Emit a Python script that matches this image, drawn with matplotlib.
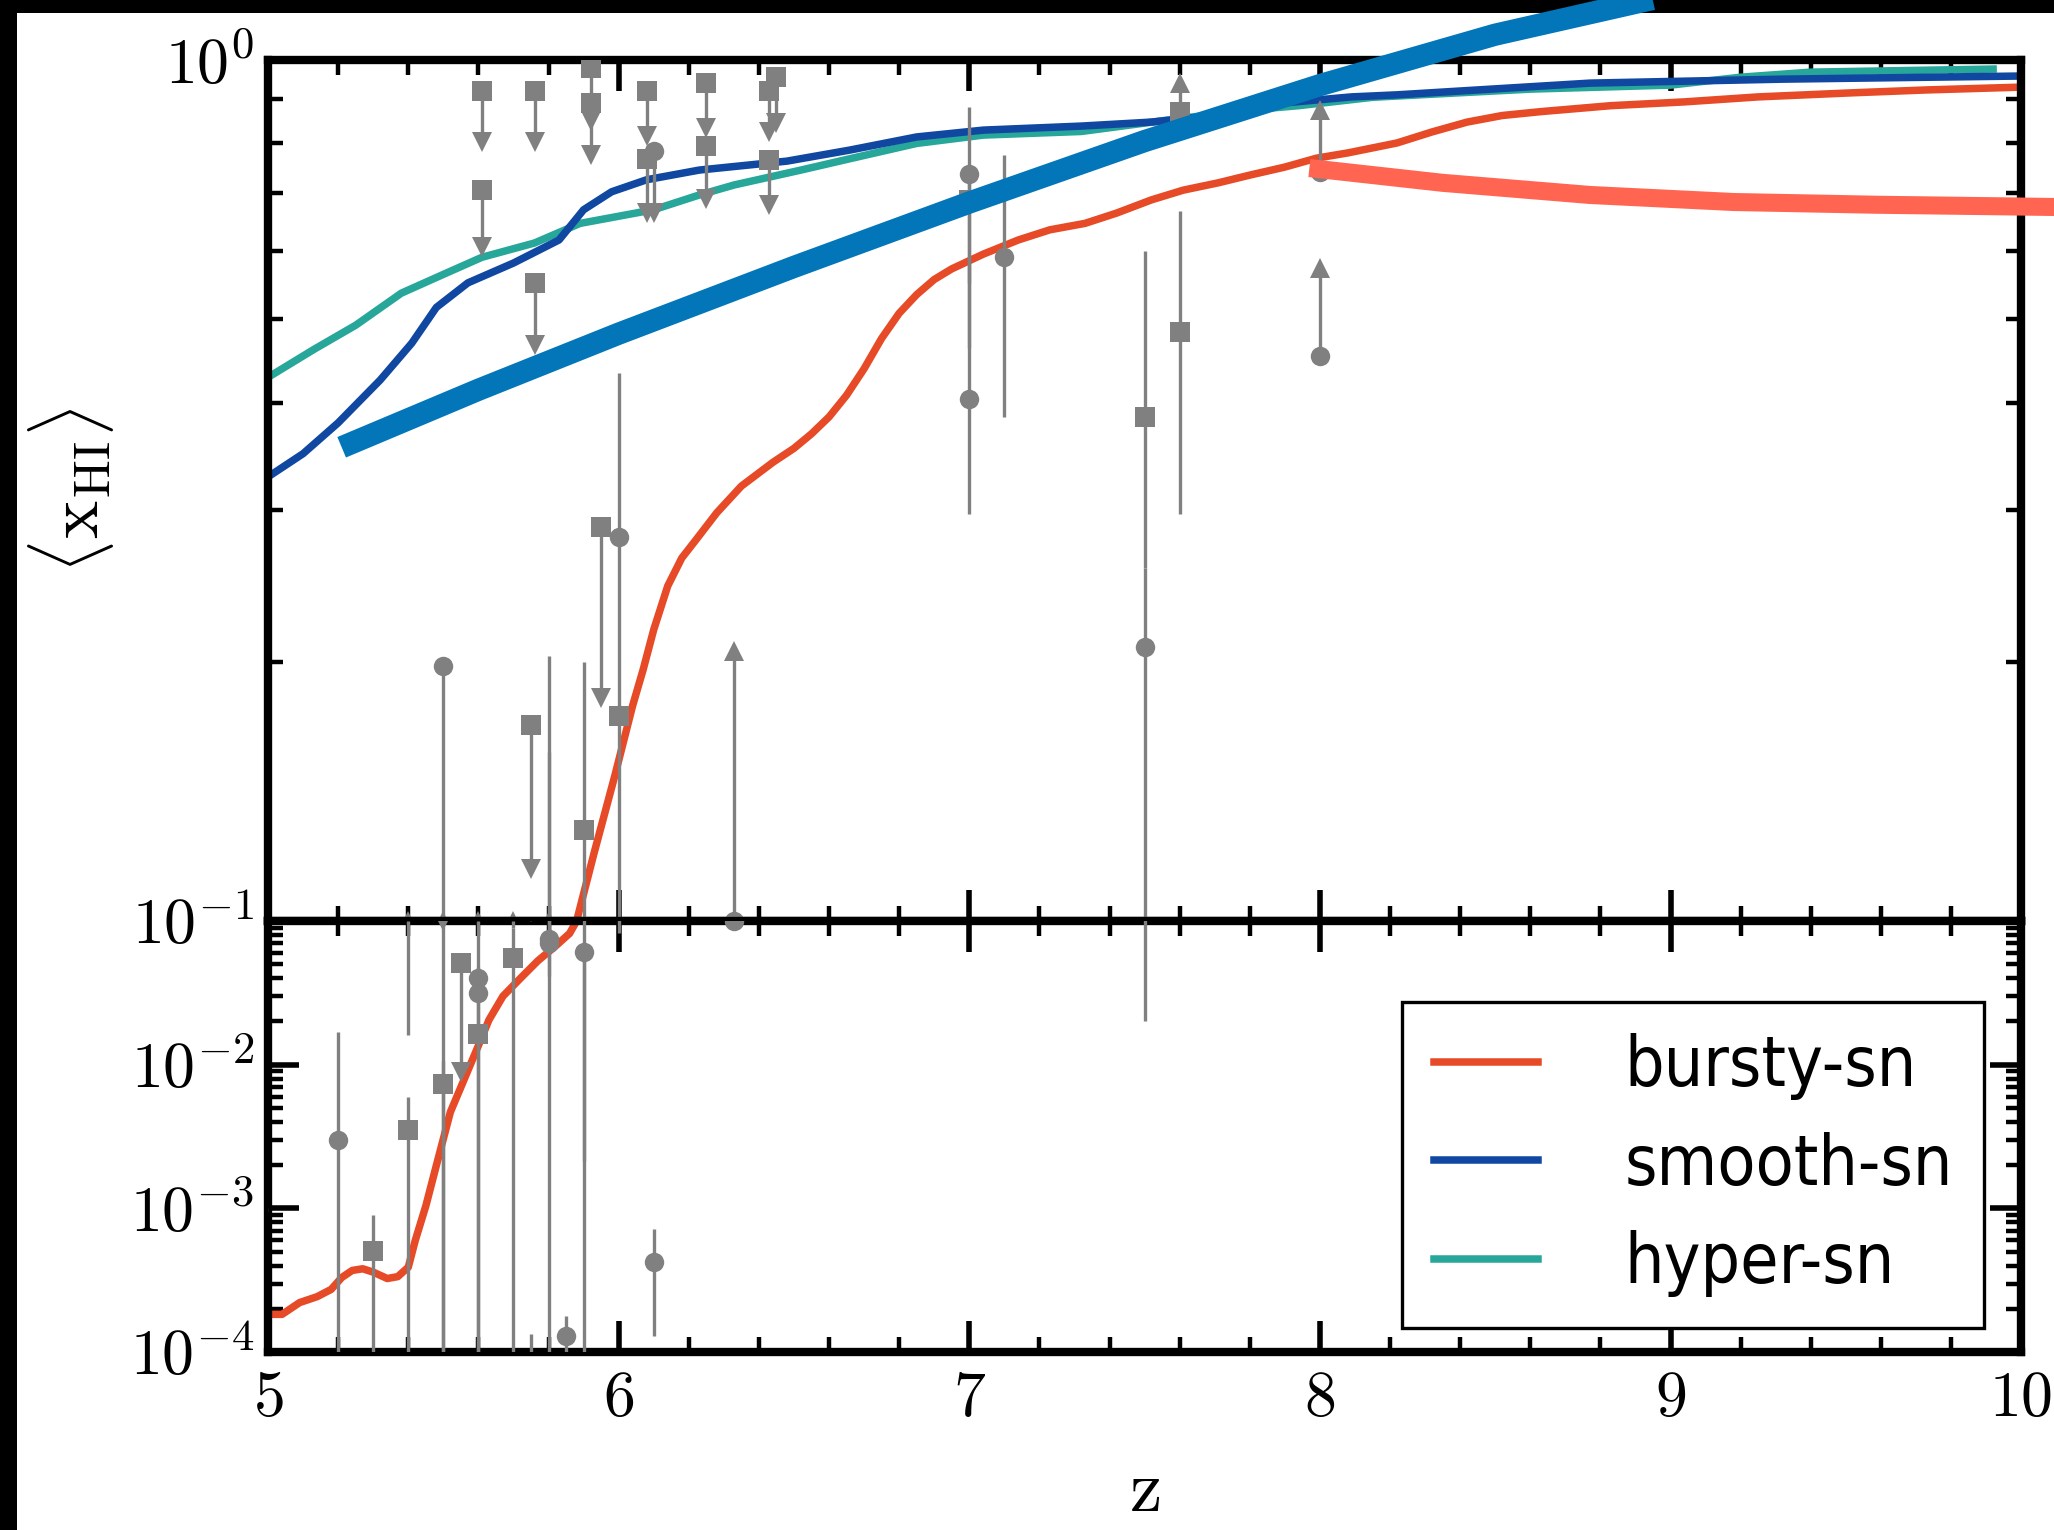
import numpy as np
import matplotlib
matplotlib.use("Agg")
import matplotlib.pyplot as plt
from matplotlib.patches import Rectangle
from matplotlib.ticker import MultipleLocator, LogLocator, FuncFormatter, NullFormatter

plt.rcParams['mathtext.fontset'] = 'cm'
plt.rcParams['font.family'] = 'serif'
plt.rcParams['font.serif'] = ['cmr10', 'DejaVu Serif']
plt.rcParams['axes.formatter.use_mathtext'] = True

# ---- model curves ----
z_bursty = [5.00, 5.04, 5.09, 5.14, 5.18, 5.21, 5.24, 5.27, 5.30, 5.34, 5.37, 5.40, 5.42,
            5.45, 5.48, 5.52, 5.56, 5.60, 5.63, 5.67, 5.72, 5.77, 5.82, 5.86, 5.88, 5.93,
            5.99, 6.04, 6.07, 6.10, 6.14, 6.18, 6.22, 6.28, 6.35, 6.44, 6.50, 6.55, 6.60,
            6.65, 6.70, 6.75, 6.80, 6.85, 6.90, 6.95, 7.04, 7.14, 7.23, 7.33, 7.42, 7.52,
            7.61, 7.71, 7.80, 7.90, 7.99, 8.08, 8.22, 8.32, 8.42, 8.52, 8.63, 8.83, 9.04,
            9.25, 9.52, 9.73, 10.0]
x_bursty = [1.83e-4, 1.83e-4, 2.21e-4, 2.43e-4, 2.73e-4, 3.3e-4, 3.7e-4, 3.8e-4, 3.6e-4,
            3.25e-4, 3.35e-4, 3.9e-4, 6.0e-4, 1.04e-3, 1.99e-3, 4.68e-3, 7.98e-3, 0.0136,
            0.0205, 0.030, 0.040, 0.053, 0.067, 0.082, 0.1, 0.12, 0.148, 0.178, 0.196,
            0.218, 0.245, 0.264, 0.277, 0.298, 0.32, 0.341, 0.354, 0.368, 0.385, 0.408,
            0.438, 0.475, 0.508, 0.534, 0.556, 0.572, 0.595, 0.618, 0.635, 0.646, 0.664,
            0.688, 0.706, 0.720, 0.735, 0.751, 0.769, 0.780, 0.801, 0.825, 0.847, 0.862,
            0.871, 0.885, 0.894, 0.906, 0.916, 0.923, 0.930]

z_smooth = [5.00, 5.10, 5.20, 5.32, 5.41, 5.48, 5.57, 5.70, 5.83, 5.90, 5.98, 6.08, 6.23,
            6.48, 6.66, 6.85, 7.04, 7.32, 7.52, 7.71, 7.89, 8.09, 8.22, 8.77, 9.32, 10.0]
x_smooth = [0.328, 0.349, 0.379, 0.425, 0.469, 0.516, 0.551, 0.581, 0.618, 0.670, 0.703,
            0.726, 0.745, 0.763, 0.786, 0.814, 0.829, 0.838, 0.847, 0.863, 0.891, 0.906,
            0.911, 0.940, 0.950, 0.958]

z_hyper = [5.00, 5.13, 5.25, 5.38, 5.51, 5.61, 5.76, 5.89, 6.10, 6.23, 6.33, 6.52, 6.66,
           6.85, 7.04, 7.32, 7.56, 7.80, 7.94, 8.15, 8.60, 9.00, 9.20, 9.40, 9.92]
x_hyper = [0.428, 0.461, 0.492, 0.536, 0.566, 0.590, 0.613, 0.646, 0.670, 0.697, 0.716,
           0.745, 0.768, 0.800, 0.818, 0.826, 0.851, 0.875, 0.885, 0.905, 0.925, 0.935,
           0.955, 0.968, 0.976]

# thick reference curves
z_thick_blue = [5.21, 5.6, 6.0, 6.5, 7.0, 7.5, 8.0, 8.5, 9.0, 9.5]
x_thick_blue = [0.355, 0.414, 0.481, 0.575, 0.683, 0.805, 0.935, 1.07, 1.19, 1.32]
z_thick_red = [7.97, 8.35, 8.77, 9.18, 9.59, 10.09, 10.4]
x_thick_red = [0.749, 0.720, 0.697, 0.684, 0.679, 0.675, 0.674]

# ---- observations with error bars: z, value, lower end, upper end ----
circ_z = [7.00, 7.00, 7.10, 7.50, 5.50, 5.80, 5.80, 5.90, 6.00, 5.20, 5.60, 5.60, 5.85, 5.75, 6.10]
circ_x = [0.738, 0.404, 0.590, 0.208, 0.198, 0.075, 0.070, 0.0607, 0.279, 3.01e-3, 0.0402,
          0.0316, 1.29e-4, 5e-5, 4.25e-4]
circ_lo = [0.463, 0.297, 0.385, 0.020, 1e-6, 0.0415, 1e-6, 1e-6, 0.173, 1e-6, 0.0246,
           1e-6, 1e-6, 1e-6, 1.29e-4]
circ_hi = [0.882, 0.589, 0.776, 0.257, 0.198, 0.203, 0.157, 0.0607, 0.433, 0.0169, 0.048,
           0.1, 1.78e-4, 1.33e-4, 7.18e-4]

sq_z = [7.00, 7.50, 7.60, 5.90, 6.00, 5.30, 5.40, 5.50, 5.60, 5.70]
sq_x = [0.688, 0.385, 0.483, 0.1276, 0.173, 5.07e-4, 3.54e-3, 7.3e-3, 0.0163, 0.0555]
sq_lo = [0.551, 0.257, 0.297, 2.15e-3, 0.0824, 1e-6, 1e-6, 1e-6, 1e-6, 1e-6]
sq_hi = [0.738, 0.600, 0.668, 0.200, 0.178, 9.04e-4, 5.94e-3, 0.0107, 0.0246, 0.0898]

# upper limits (arrow down): z, value, arrow tip
ul_sq_z = [5.61, 5.76, 5.92, 5.92, 6.08, 6.08, 6.25, 6.25, 6.45, 6.43, 6.43, 5.76, 5.61,
           5.75, 5.95, 5.55]
ul_sq_x = [0.921, 0.921, 0.978, 0.892, 0.921, 0.767, 0.941, 0.795, 0.956, 0.921, 0.765,
           0.551, 0.706, 0.169, 0.287, 0.0507]
ul_sq_tip = [0.804, 0.804, 0.850, 0.776, 0.815, 0.664, 0.833, 0.689, 0.845, 0.825, 0.678,
             0.467, 0.607, 0.115, 0.1815, 0.0089]
ul_circ_z = [6.10]
ul_circ_x = [0.785]
ul_circ_tip = [0.664]

# lower limits (arrow up)
ll_sq_z = [7.60]
ll_sq_x = [0.869]
ll_sq_tip = [0.94]
ll_circ_z = [8.0, 8.0, 6.33]
ll_circ_x = [0.453, 0.741, 0.1]
ll_circ_tip = [0.574, 0.875, 0.206]

# bars that run into the panel break
edge_z = [5.4, 5.7]
edge_lo = [0.016, 0.0898]
edge_mark_z = [5.4, 5.5, 5.6, 5.7, 5.8]
hidden_z = [4.97]
hidden_x = [9.8e-4]

GRAY = '#808080'
C_BURSTY = '#e64a27'
C_SMOOTH = '#0f47a1'
C_HYPER = '#27a69a'
C_THICK_BLUE = '#0276b9'
C_THICK_RED = '#ff6550'


def draw_obs(ax, top):
    kw = dict(color=GRAY, ecolor=GRAY, ms=7, elinewidth=1.2, capsize=3.4,
              capthick=1.2, zorder=3, mew=0)
    cz, cx = np.array(circ_z), np.array(circ_x)
    ax.errorbar(cz, cx, yerr=[cx - np.array(circ_lo), np.array(circ_hi) - cx], fmt='o', **kw)
    sz, sx = np.array(sq_z), np.array(sq_x)
    ax.errorbar(sz, sx, yerr=[sx - np.array(sq_lo), np.array(sq_hi) - sx], fmt='s', **kw)
    for zz, lo in zip(edge_z, edge_lo):
        ax.errorbar([zz], [0.1], yerr=[[0.1 - lo], [0]], fmt='none', **kw)
    for zs, xs, ts, m, head in [(ul_sq_z, ul_sq_x, ul_sq_tip, 's', 'v'),
                                (ul_circ_z, ul_circ_x, ul_circ_tip, 'o', 'v'),
                                (ll_sq_z, ll_sq_x, ll_sq_tip, 's', '^'),
                                (ll_circ_z, ll_circ_x, ll_circ_tip, 'o', '^')]:
        for zz, xx, tt in zip(zs, xs, ts):
            ax.plot([zz, zz], [xx, tt], color=GRAY, lw=1.2, zorder=3)
        ax.plot(zs, xs, m, color=GRAY, ms=7, mew=0, zorder=3)
        ax.plot(zs, ts, head, color=GRAY, ms=7.5, mew=0, zorder=3)
    ax.plot(hidden_z, hidden_x, 'o', color=GRAY, ms=7, mew=0, zorder=3)
    if top:
        ax.plot(edge_mark_z, [0.1] * len(edge_mark_z), '^', color=GRAY, ms=7.5, mew=0, zorder=3)
    else:
        ax.plot([5.5], [0.1], 'v', color=GRAY, ms=7.5, mew=0, zorder=3)


fig = plt.figure(figsize=(10.27, 7.65), dpi=200, facecolor='black')
fig.add_artist(Rectangle((17 / 2054, 0), 1, 1 - 13 / 1530, transform=fig.transFigure,
                         facecolor='white', edgecolor='none', zorder=-10))

left, right = 0.1305, 0.984
y_bot, y_mid, y_top = 0.1163, 0.398, 0.9608
ax_top = fig.add_axes([left, y_mid, right - left, y_top - y_mid])
ax_bot = fig.add_axes([left, y_bot, right - left, y_mid - y_bot])

handles = []
for ax, top in [(ax_top, True), (ax_bot, False)]:
    lb, = ax.plot(z_bursty, x_bursty, color=C_BURSTY, lw=2.7, zorder=2.2,
                  solid_joinstyle='round')
    ls, = ax.plot(z_smooth, x_smooth, color=C_SMOOTH, lw=2.7, zorder=2.1,
                  solid_joinstyle='round')
    lh, = ax.plot(z_hyper, x_hyper, color=C_HYPER, lw=2.7, zorder=2.0,
                  solid_joinstyle='round')
    if top:
        handles = [lb, ls, lh]
    draw_obs(ax, top)

ax_top.plot(z_thick_blue, x_thick_blue, color=C_THICK_BLUE, lw=8, clip_on=False,
            solid_capstyle='butt', zorder=5)
ax_top.plot(z_thick_red, x_thick_red, color=C_THICK_RED, lw=6.5, clip_on=False,
            solid_capstyle='butt', zorder=5)

pow_fmt = FuncFormatter(lambda v, p: r'$10^{%d}$' % int(round(np.log10(v))))
pow_fmt_bot = FuncFormatter(lambda v, p: '' if v > 0.05 else r'$10^{%d}$' % int(round(np.log10(v))))

for ax in (ax_top, ax_bot):
    ax.set_xlim(5, 10)
    ax.set_yscale('log')
    ax.xaxis.set_major_locator(MultipleLocator(1))
    ax.xaxis.set_minor_locator(MultipleLocator(0.2))
    ax.yaxis.set_major_locator(LogLocator(base=10))
    ax.yaxis.set_minor_locator(LogLocator(base=10, subs=np.arange(2, 10)))
    ax.yaxis.set_minor_formatter(NullFormatter())
    ax.tick_params(which='both', direction='in', top=True, right=True, labelsize=23)
    ax.tick_params(which='major', length=11, width=2)
    ax.tick_params(which='minor', length=5.5, width=1.6)
    ax.tick_params(axis='x', pad=7)
    ax.tick_params(axis='y', pad=5)
    for sp in ax.spines.values():
        sp.set_linewidth(3)

ax_top.set_ylim(0.1, 1)
ax_bot.set_ylim(1e-4, 0.1)
ax_top.yaxis.set_major_formatter(pow_fmt)
ax_bot.yaxis.set_major_formatter(pow_fmt_bot)
ax_top.tick_params(labelbottom=False)
ax_bot.xaxis.set_major_formatter(FuncFormatter(lambda v, p: r'$%d$' % int(round(v))))

ax_top.set_ylabel(r'$\langle \mathrm{x}_{\mathrm{HI}} \rangle$', fontsize=26)
ax_top.yaxis.set_label_coords(-0.087, 0.5)
ax_bot.set_xlabel(r'$\mathrm{z}$', fontsize=26)
ax_bot.xaxis.set_label_coords(0.5, -0.25)

leg = ax_bot.legend(handles, ['bursty-sn', 'smooth-sn', 'hyper-sn'], loc='upper left',
                    bbox_to_anchor=(0.647, 0.812), borderaxespad=0, fancybox=False,
                    edgecolor='black', framealpha=1,
                    prop=dict(family=['Liberation Sans Narrow', 'DejaVu Sans'],
                              stretch='condensed', size=25),
                    handlelength=1.5, handletextpad=1.25, borderpad=0.45, labelspacing=0.45)
leg.get_frame().set_linewidth(1.2)
leg.set_zorder(10)

fig.savefig('out.png', dpi=200)
